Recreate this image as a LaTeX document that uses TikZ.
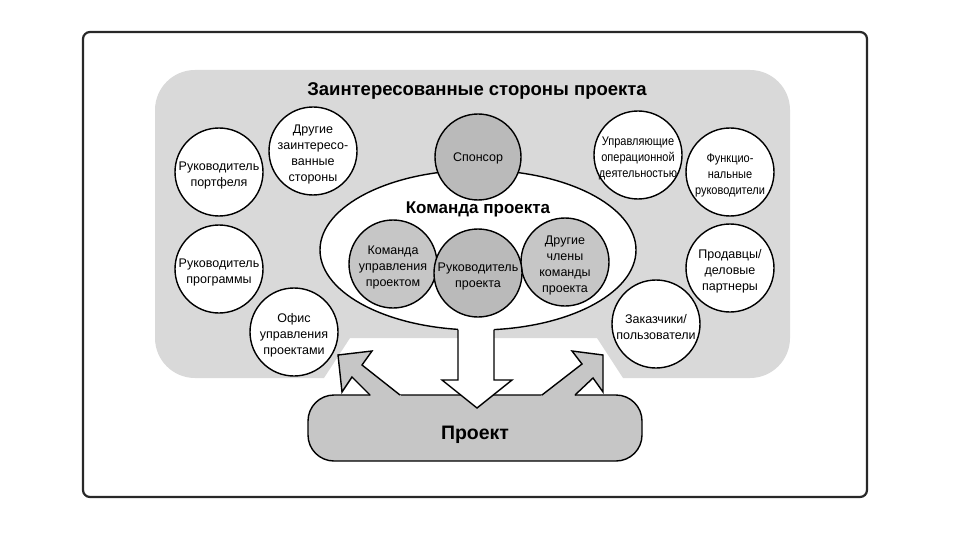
\documentclass[tikz,border=0pt]{standalone}
\usepackage{fontspec}
\setmainfont{Liberation Sans}
\newfontfamily\narrowsans[FakeStretch=0.88]{Liberation Sans}
\usetikzlibrary{shapes.geometric}
\definecolor{frame}{RGB}{40,40,40}
\definecolor{paleGray}{RGB}{217,217,217}
\definecolor{midGray}{RGB}{198,198,198}
\definecolor{darkGray}{RGB}{186,186,186}
\tikzset{
  party/.style={circle,draw=black,line width=1.4pt,fill=#1,minimum size=88pt,inner sep=0pt},
  party/.default=white,
  partytext/.style={align=center,inner sep=0pt,yshift=-3pt,
    font=\fontsize{12.5}{16}\selectfont},
  narrowtext/.style={partytext,font=\narrowsans\fontsize{12.5}{16}\selectfont},
  heading/.style={font=\bfseries\fontsize{#1}{#1}\selectfont},
  blockarrow/.style={line width=1.4pt,line join=miter},
}

\begin{document}
\begin{tikzpicture}[x=1pt,y=-1pt]
  \useasboundingbox (0,0) rectangle (960,540);
  \draw[frame,line width=2.2pt,rounded corners=7pt] (83,32) rectangle (867,497);
  % stakeholder area with the cut-out under the team
  \fill[paleGray] (155,224) [rounded corners=40pt] |- (470,70) -| (790,224) |- (700,378)
    [sharp corners] -- (623,378) -- (597,338) -- (350,338) -- (324,378) -- (250,378)
    [rounded corners=40pt] -| (155,224) -- cycle;
  \node[heading=18.5] (title) at (477,91) {Заинтересованные стороны проекта};

  % project team
  \node[ellipse,draw,line width=1.4pt,fill=white,minimum width=316pt,
    minimum height=160pt,inner sep=0pt] (team) at (478,250) {};
  \node[heading=17] (teamlabel) at (478,209) {Команда проекта};
  \node[party=midGray,label={[partytext]center:Команда\\управления\\проектом}]
    (pmteam) at (393,264) {};
  \node[party=midGray,label={[partytext]center:Другие\\члены\\команды\\проекта}]
    (members) at (565,262) {};
  \node[party=darkGray,label={[partytext]center:Руководитель\\проекта}]
    (pm) at (478,273) {};
  \node[party=darkGray,minimum size=86pt,label={[partytext,yshift=1.5pt]center:Спонсор}]
    (sponsor) at (478,157) {};

  % stakeholders around
  \node[party,label={[partytext]center:Руководитель\\портфеля}] (portfolio) at (219,172) {};
  \node[party,label={[partytext]center:Другие\\заинтересо-\\ванные\\стороны}]
    (others) at (313,151) {};
  \node[party,label={[narrowtext]center:Управляющие\\операционной\\деятельностью}]
    (operations) at (638,155) {};
  \node[party,label={[narrowtext]center:Функцио-\\нальные\\руководители}]
    (functional) at (730,172) {};
  \node[party,label={[partytext]center:Руководитель\\программы}] (program) at (219,269) {};
  \node[party,label={[partytext]center:Офис\\управления\\проектами}] (pmo) at (294,332) {};
  \node[party,label={[partytext]center:Продавцы/\\деловые\\партнеры}]
    (vendors) at (730,268) {};
  \node[party,label={[partytext]center:Заказчики/\\пользователи}] (customers) at (656,324) {};

  % project
  \node[draw,line width=1.4pt,fill=midGray,rounded corners=26pt,minimum width=334pt,
    minimum height=66pt,heading=19.5,text height=22pt,text depth=0pt] (project)
    at (475,428) {Проект};

  % arrows
  \fill[midGray] (372,397) -- (370,395) -- (352,377) -- (342,392) -- (338,355) -- (372,351)
    -- (362,365) -- (400,395) -- (402,397) -- cycle;
  \draw[blockarrow] (370,395) -- (352,377) -- (342,392) -- (338,355) -- (372,351)
    -- (362,365) -- (400,395);
  \fill[midGray] (540,397) -- (542,395) -- (582,364) -- (572,351) -- (603,355) -- (603,392)
    -- (593,378) -- (575,395) -- (573,397) -- cycle;
  \draw[blockarrow] (542,395) -- (582,364) -- (572,351) -- (603,355) -- (603,392)
    -- (593,378) -- (575,395);
  \fill[white] (458,320) -- (458,380) -- (442,380) -- (477,408) -- (512,380) -- (494,380)
    -- (494,320) -- cycle;
  \draw[blockarrow] (458,329.5) -- (458,380) -- (442,380) -- (477,408) -- (512,380)
    -- (494,380) -- (494,329.5);
\end{tikzpicture}
\end{document}
